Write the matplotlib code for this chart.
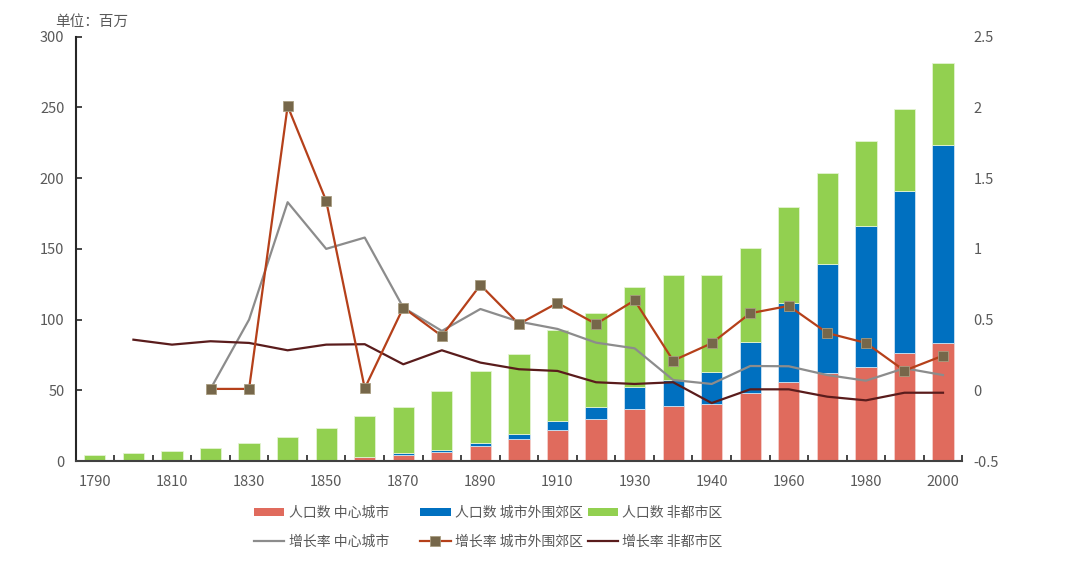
import numpy as np
import matplotlib
matplotlib.use('Agg')
import matplotlib.pyplot as plt
from matplotlib.patches import Patch
from matplotlib.lines import Line2D

plt.rcParams['font.family'] = ['Noto Sans CJK SC', 'DejaVu Sans']

# data (millions / growth rate)
years = ['1790', '1800', '1810', '1820', '1830', '1840', '1850', '1860', '1870', '1880',
         '1890', '1900', '1910', '1920', '1930', '1940', '1940', '1950', '1960', '1970',
         '1980', '1990', '2000']
central = [0, 0, 0, 0, 0, 0, 1.0, 3.0, 4.1, 6.7, 10.5, 15.4, 21.6, 29.6, 36.9, 39.2, 40.5,
           48.3, 56.1, 62.4, 66.2, 76.6, 83.8]
suburbs = [0, 0, 0, 0, 0, 0, 0, 0, 1.4, 1.4, 2.4, 3.8, 6.6, 8.4, 15.3, 17.8, 22.8,
           35.6, 55.3, 76.9, 100.3, 114.1, 139.9]
nonmetro = [4.2, 5.4, 6.9, 9.3, 13.1, 17.0, 22.4, 29.0, 33.0, 41.7, 50.7, 56.8, 64.2, 67.0,
            70.6, 74.8, 68.4, 66.5, 67.9, 64.1, 59.8, 58.1, 57.5]

nan = np.nan
g_central = [nan, nan, nan, 0.01, 0.50, 1.33, 1.00, 1.08, 0.585, 0.42, 0.575, 0.486, 0.434,
             0.337, 0.297, 0.073, 0.045, 0.172, 0.17, 0.108, 0.068, 0.156, 0.108]
g_suburbs = [nan, nan, nan, 0.01, 0.01, 2.01, 1.34, 0.014, 0.585, 0.384, 0.745, 0.469, 0.618,
             0.469, 0.636, 0.21, 0.333, 0.545, 0.597, 0.405, 0.335, 0.139, 0.245]
g_nonmetro = [nan, 0.358, 0.323, 0.347, 0.335, 0.283, 0.323, 0.326, 0.184, 0.283, 0.196,
              0.149, 0.137, 0.057, 0.045, 0.057, -0.09, 0.007, 0.007, -0.045, -0.071,
              -0.017, -0.017]

c_red = '#E06B5D'
c_blue = '#0070C0'
c_green = '#92D050'
c_gray = '#8C8C8C'
c_orange = '#B5401A'
c_mark = '#76674A'
c_brown = '#5A1C1C'
txt = '#595959'

x = np.arange(len(years))
central = np.array(central)
suburbs = np.array(suburbs)
nonmetro = np.array(nonmetro)

fig = plt.figure(figsize=(10.8, 5.65), dpi=100)
ax = fig.add_axes([0.070, 0.184, 0.821, 0.751])
w = 0.55
ax.bar(x, central, w, color=c_red, edgecolor='#f4d0cb', linewidth=0.6, zorder=2)
ax.bar(x, suburbs, w, bottom=central, color=c_blue, edgecolor='#cfe3f3', linewidth=0.6, zorder=2)
ax.bar(x, nonmetro, w, bottom=central + suburbs, color=c_green, edgecolor='#e3f3d2',
       linewidth=0.6, zorder=2)

ax.set_xlim(-0.5, len(years) - 0.5)
ax.set_ylim(0, 300)
ax.set_yticks(range(0, 301, 50))
ax.set_xticks(x[::2])
ax.set_xticklabels(years[::2])
ax.set_xticks(np.arange(-0.5, len(years), 1), minor=True)
ax.tick_params(axis='x', which='major', length=0, pad=10, labelsize=10.5, labelcolor=txt)
ax.tick_params(axis='x', which='minor', direction='in', length=4, width=1.2, color='#262626')
ax.tick_params(axis='y', direction='in', length=4, width=1.2, color='#262626',
               labelsize=10.5, labelcolor=txt, pad=8)
for s in ('top', 'right'):
    ax.spines[s].set_visible(False)
ax.spines['left'].set_color('#262626')
ax.spines['left'].set_linewidth(1.5)
ax.spines['bottom'].set_color('#404040')
ax.spines['bottom'].set_linewidth(1.5)

ax2 = ax.twinx()
ax2.set_ylim(-0.5, 2.5)
ax2.set_yticks([-0.5, 0, 0.5, 1, 1.5, 2, 2.5])
ax2.set_yticklabels(['-0.5', '0', '0.5', '1', '1.5', '2', '2.5'])
for s in ('top', 'right', 'left', 'bottom'):
    ax2.spines[s].set_visible(False)
ax2.tick_params(axis='y', length=0, labelsize=10.5, labelcolor=txt, pad=8)
ax2.plot(x, g_central, color=c_gray, lw=1.6, zorder=3)
ax2.plot(x, g_suburbs, color=c_orange, lw=1.6, marker='s', markersize=6.5,
         markerfacecolor=c_mark, markeredgecolor='#a89c80', markeredgewidth=0.6, zorder=4)
ax2.plot(x, g_nonmetro, color=c_brown, lw=1.6, zorder=3)

fig.text(0.051, 0.962, '单位：百万', fontsize=10.5, color=txt, ha='left', va='center')

# legend: three columns placed like the original
cols = [
    ([Patch(facecolor=c_red, edgecolor='none'), Line2D([], [], color=c_gray, lw=1.6)],
     ['人口数 中心城市', '增长率 中心城市'], 0.235),
    ([Patch(facecolor=c_blue, edgecolor='none'),
      Line2D([], [], color=c_orange, lw=1.6, marker='s', markersize=6.5,
             markerfacecolor=c_mark, markeredgecolor='#a89c80', markeredgewidth=0.6)],
     ['人口数 城市外围郊区', '增长率 城市外围郊区'], 0.389),
    ([Patch(facecolor=c_green, edgecolor='none'), Line2D([], [], color=c_brown, lw=1.6)],
     ['人口数 非都市区', '增长率 非都市区'], 0.544),
]
for hs, ls, xpos in cols:
    leg = fig.legend(hs, ls, loc='center left', bbox_to_anchor=(xpos, 0.067), ncol=1,
                     frameon=False, fontsize=10, handlelength=2.2, handletextpad=0.3,
                     labelspacing=1.05, handleheight=0.6, borderpad=0, borderaxespad=0)
    for t in leg.get_texts():
        t.set_color(txt)

fig.savefig('out.png', dpi=100)
